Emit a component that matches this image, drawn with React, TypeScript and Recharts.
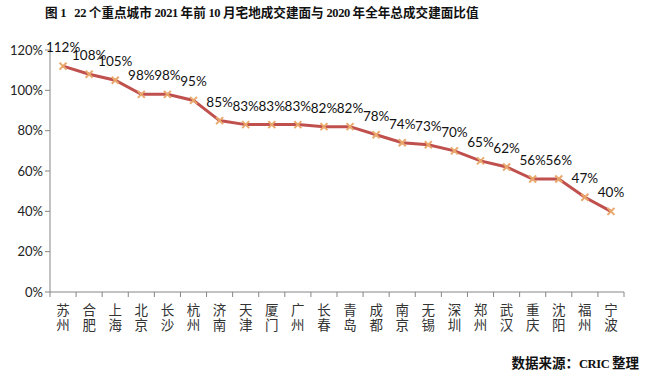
import React from 'react';
import { LineChart, Line, XAxis, YAxis, LabelList } from 'recharts';

const cities = ['苏州','合肥','上海','北京','长沙','杭州','济南','天津','厦门','广州','长春','青岛','成都','南京','无锡','深圳','郑州','武汉','重庆','沈阳','福州','宁波'];
const ratios = [112,108,105,98,98,95,85,83,83,83,82,82,78,74,73,70,65,62,56,56,47,40];
const yTicks = [0,20,40,60,80,100,120];
const titleText = '图 1   22 个重点城市 2021 年前 10 月宅地成交建面与 2020 年全年总成交建面比值';
const sourceText = '数据来源：CRIC 整理';

const data = cities.map((c, i) => ({ city: c, value: ratios[i] }));

const W = 650, H = 381;
const ML = 0, MR = 26, YW = 50;
const BAND = (W - ML - MR - YW) / cities.length;

const Mixed = ({ text, cjk }: { text: string; cjk: number }) => {
  const runs = text.match(/[\x00-\x7F]+|[^\x00-\x7F]+/g) || [];
  return (
    <>
      {runs.map((r, i) =>
        /^[\x00-\x7F]+$/.test(r)
          ? <span key={i} style={{ fontFamily: "'Liberation Serif'", fontSize: 12.5, letterSpacing: -0.4 }}>{r}</span>
          : <span key={i} style={{ fontFamily: "'Noto Sans CJK SC'", fontSize: cjk }}>{r}</span>
      )}
    </>
  );
};

const XTick = (props: any) => {
  const { x, y, payload, index } = props;
  const chars = String(payload.value).split('');
  const isLast = index === cities.length - 1;
  return (
    <g>
      <line x1={x - BAND / 2} x2={x - BAND / 2} y1={y - 8} y2={y - 3} stroke="#868686" />
      {isLast && <line x1={x + BAND / 2} x2={x + BAND / 2} y1={y - 8} y2={y - 3} stroke="#868686" />}
      {chars.map((ch, k) => (
        <text key={k} x={x} y={y + 15 + k * 14.5} textAnchor="middle" fontSize={13.5}
          fontFamily="'Noto Sans CJK SC'" fill="#333">{ch}</text>
      ))}
    </g>
  );
};

const Dot = (props: any) => {
  const { cx, cy } = props;
  const s = 3.5;
  return (
    <g>
      <line x1={cx - s} y1={cy - s} x2={cx + s} y2={cy + s} stroke="#E9A86B" strokeWidth={2} />
      <line x1={cx - s} y1={cy + s} x2={cx + s} y2={cy - s} stroke="#E9A86B" strokeWidth={2} />
    </g>
  );
};

const Lbl = (props: any) => {
  const { x, y, value } = props;
  return (
    <text x={x} y={y - 14} textAnchor="middle" fontSize={13.5} fontFamily="Lato" fill="#111">{value}%</text>
  );
};

export default function App() {
  return (
    <div style={{ position: 'absolute', left: 0, top: 0, width: W, height: H, background: '#fff' }}>
      <div style={{ position: 'absolute', left: 45, top: 2, fontWeight: 'bold', whiteSpace: 'pre', color: '#111', lineHeight: '20px' }}>
        <Mixed text={titleText} cjk={12.6} />
      </div>
      <LineChart width={W} height={H} data={data} margin={{ top: 50, right: MR, bottom: 39, left: ML }}>
        <XAxis dataKey="city" interval={0} tick={<XTick />} tickLine={false} axisLine={{ stroke: '#868686' }} height={50}
          padding={{ left: BAND / 2, right: BAND / 2 }} />
        <YAxis domain={[0, 120]} ticks={yTicks} width={YW} interval={0}
          tickFormatter={(v: number) => `${v}%`}
          tick={{ fontSize: 13, fill: '#222', fontFamily: 'Lato' }}
          tickLine={{ stroke: '#868686' }} tickSize={5} axisLine={{ stroke: '#868686' }} />
        <Line type="linear" dataKey="value" stroke="#C0504D" strokeWidth={3} dot={<Dot />} isAnimationActive={false}>
          <LabelList dataKey="value" content={<Lbl />} />
        </Line>
      </LineChart>
      <div style={{ position: 'absolute', right: 11, top: 352, fontWeight: 'bold', whiteSpace: 'pre', color: '#111', lineHeight: '20px' }}>
        <Mixed text={sourceText} cjk={13.5} />
      </div>
    </div>
  );
}
